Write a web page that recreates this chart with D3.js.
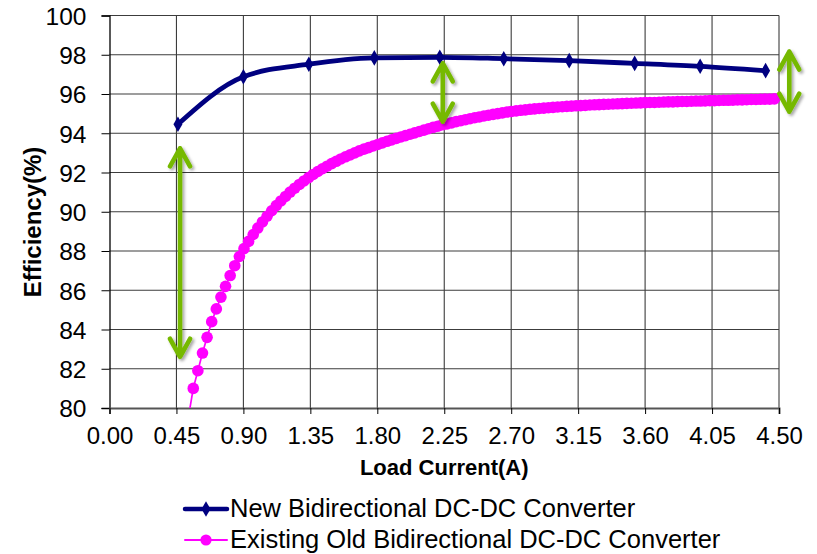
<!DOCTYPE html>
<html>
<head>
<meta charset="utf-8">
<script src="https://cdnjs.cloudflare.com/ajax/libs/d3/7.8.5/d3.min.js"></script>
<style>
  body { margin: 0; background: #fff; }
  text { font-family: "Liberation Sans", Arial, sans-serif; fill: #000; }
</style>
</head>
<body>
<script>
// Efficiency vs load current, two converters

// Tick values
var xTicks = [0.00, 0.45, 0.90, 1.35, 1.80, 2.25, 2.70, 3.15, 3.60, 4.05, 4.50];
var yTicks = [80, 82, 84, 86, 88, 90, 92, 94, 96, 98, 100];

// Series names
var seriesNames = ["New Bidirectional DC-DC Converter", "Existing Old Bidirectional DC-DC Converter"];

// New converter (measured points)
var newX = [0.46, 0.90, 1.34, 1.78, 2.22, 2.65, 3.09, 3.53, 3.97, 4.41];
var newY = [94.46, 96.88, 97.52, 97.84, 97.87, 97.80, 97.70, 97.56, 97.41, 97.19];

// Old converter (dense curve)
var oldX = [0.532, 0.563, 0.594, 0.625, 0.656, 0.687, 0.718, 0.749, 0.780, 0.811,
  0.842, 0.873, 0.904, 0.935, 0.966, 0.997, 1.028, 1.059, 1.090, 1.121,
  1.152, 1.183, 1.214, 1.245, 1.276, 1.307, 1.338, 1.369, 1.400, 1.431,
  1.462, 1.493, 1.524, 1.555, 1.586, 1.617, 1.648, 1.679, 1.710, 1.741,
  1.772, 1.803, 1.834, 1.865, 1.896, 1.927, 1.958, 1.989, 2.020, 2.051,
  2.082, 2.113, 2.144, 2.175, 2.206, 2.237, 2.268, 2.299, 2.330, 2.361,
  2.392, 2.423, 2.454, 2.485, 2.516, 2.547, 2.578, 2.609, 2.640, 2.671,
  2.702, 2.733, 2.764, 2.795, 2.826, 2.857, 2.888, 2.919, 2.950, 2.981,
  3.012, 3.043, 3.074, 3.105, 3.136, 3.167, 3.198, 3.229, 3.260, 3.291,
  3.322, 3.353, 3.384, 3.415, 3.446, 3.477, 3.508, 3.539, 3.570, 3.601,
  3.632, 3.663, 3.694, 3.725, 3.756, 3.787, 3.818, 3.849, 3.880, 3.911,
  3.942, 3.973, 4.004, 4.035, 4.066, 4.097, 4.128, 4.159, 4.190, 4.221,
  4.252, 4.283, 4.314, 4.345, 4.376, 4.407, 4.438, 4.469];
var oldY = [79.60, 81.00, 81.90, 82.80, 83.60, 84.40, 85.05, 85.65, 86.20, 86.75,
  87.25, 87.72, 88.12, 88.49, 88.84, 89.17, 89.48, 89.77, 90.05, 90.31,
  90.55, 90.78, 91.00, 91.20, 91.39, 91.57, 91.74, 91.90, 92.05, 92.19,
  92.32, 92.45, 92.57, 92.69, 92.80, 92.90, 93.00, 93.10, 93.19, 93.27,
  93.35, 93.43, 93.51, 93.59, 93.66, 93.74, 93.81, 93.88, 93.95, 94.02,
  94.09, 94.16, 94.23, 94.30, 94.36, 94.43, 94.48, 94.53, 94.59, 94.64,
  94.69, 94.74, 94.79, 94.83, 94.88, 94.92, 94.96, 95.00, 95.04, 95.08,
  95.11, 95.14, 95.17, 95.19, 95.22, 95.24, 95.26, 95.28, 95.30, 95.32,
  95.34, 95.35, 95.37, 95.38, 95.40, 95.41, 95.42, 95.44, 95.45, 95.46,
  95.47, 95.48, 95.49, 95.50, 95.51, 95.52, 95.53, 95.54, 95.55, 95.56,
  95.57, 95.57, 95.58, 95.59, 95.60, 95.60, 95.61, 95.62, 95.62, 95.63,
  95.64, 95.64, 95.65, 95.66, 95.66, 95.67, 95.68, 95.68, 95.69, 95.70,
  95.70, 95.71, 95.72, 95.72, 95.73, 95.74, 95.74, 95.75];

// Green double arrows (x, top, bottom)
var arrowX = [0.474, 2.24, 4.569];
var arrowTop = [93.23, 97.56, 98.16];
var arrowBottom = [82.61, 94.59, 95.10];

// Set margins
var margin = {top: 15.5, left: 109.5, right: 38, bottom: 146};
var width = 817 - margin.left - margin.right;
var height = 554 - margin.top - margin.bottom;

var svg = d3.select("body").append("svg")
    .attr("width", 817)
    .attr("height", 554);

// arrow shadow
var defs = svg.append("defs");
var f = defs.append("filter").attr("id", "shadow")
    .attr("x", "-50%").attr("y", "-20%").attr("width", "200%").attr("height", "140%");
f.append("feDropShadow").attr("dx", 2).attr("dy", 2).attr("stdDeviation", 1.8)
    .attr("flood-color", "#000").attr("flood-opacity", 0.35);
defs.append("clipPath").attr("id", "plotClip")
  .append("rect").attr("x", -10).attr("y", -10).attr("width", width + 20).attr("height", height + 10);

var g = svg.append("g")
    .attr("transform", "translate(" + margin.left + "," + margin.top + ")");

// Scales
var x = d3.scaleLinear().domain([0, 4.5]).range([0, width]);
var y = d3.scaleLinear().domain([80, 100]).range([height, 0]);

// Grid lines
g.selectAll(".vgrid")
    .data(xTicks.slice(1))
    .enter().append("line")
    .attr("x1", function(d) { return x(d); })
    .attr("x2", function(d) { return x(d); })
    .attr("y1", 0).attr("y2", height)
    .attr("stroke", "#3c3c3c").attr("stroke-width", 1.1);

g.selectAll(".hgrid")
    .data(yTicks.slice(1))
    .enter().append("line")
    .attr("x1", 0).attr("x2", width)
    .attr("y1", function(d) { return y(d); })
    .attr("y2", function(d) { return y(d); })
    .attr("stroke", "#3c3c3c").attr("stroke-width", 1.1);

// Axes
var yAxis = g.append("g")
    .call(d3.axisLeft(y).tickValues(yTicks).tickSize(8).tickPadding(15).tickFormat(d3.format("d")));
var xAxis = g.append("g")
    .attr("transform", "translate(0," + height + ")")
    .call(d3.axisBottom(x).tickValues(xTicks).tickSize(6).tickPadding(13).tickFormat(d3.format(".2f")));

yAxis.select(".domain").attr("stroke", "#000").attr("stroke-width", 1.3);
xAxis.select(".domain").attr("stroke", "#555").attr("stroke-width", 2);
yAxis.selectAll(".tick line").attr("stroke", "#000");
xAxis.selectAll(".tick line").attr("stroke", "#000");
yAxis.selectAll("text").style("font-size", "24.5px").attr("dy", "0.36em");
xAxis.selectAll("text").style("font-size", "24px");

// Axis titles
svg.append("text")
    .attr("transform", "translate(41,222) rotate(-90)")
    .attr("text-anchor", "middle")
    .style("font-size", "24px").style("font-weight", "bold")
    .text("Efficiency(%)");

svg.append("text")
    .attr("x", margin.left + width / 2)
    .attr("y", 475)
    .attr("text-anchor", "middle")
    .style("font-size", "22px").style("font-weight", "bold")
    .text("Load Current(A)");

// Old converter series
var oldData = oldX.map(function(d, i) { return {x: d, y: oldY[i]}; });
var plot = g.append("g").attr("clip-path", "url(#plotClip)");

plot.append("path")
    .datum(oldData)
    .attr("fill", "none")
    .attr("stroke", "#ff00ff")
    .attr("stroke-width", 1.7)
    .attr("d", d3.line().x(function(d) { return x(d.x); }).y(function(d) { return y(d.y); }));

plot.selectAll(".oldpt")
    .data(oldData)
    .enter().append("circle")
    .attr("cx", function(d) { return x(d.x); })
    .attr("cy", function(d) { return y(d.y); })
    .attr("r", 5.8)
    .attr("fill", "#ff00ff");

// New converter series
var newData = newX.map(function(d, i) { return {x: d, y: newY[i]}; });

g.append("path")
    .datum(newData)
    .attr("fill", "none")
    .attr("stroke", "#000080")
    .attr("stroke-width", 4.8)
    .attr("d", d3.line().curve(d3.curveMonotoneX)
        .x(function(d) { return x(d.x); }).y(function(d) { return y(d.y); }));

g.selectAll(".newpt")
    .data(newData)
    .enter().append("path")
    .attr("transform", function(d) { return "translate(" + x(d.x) + "," + y(d.y) + ")"; })
    .attr("d", d3.symbol().type(d3.symbolDiamond).size(70))
    .attr("fill", "#000080");

// Arrows
var arrows = g.selectAll(".arrow")
    .data(arrowX.map(function(d, i) { return {x: d, t: arrowTop[i], b: arrowBottom[i]}; }))
    .enter().append("path")
    .attr("fill", "none")
    .attr("stroke", "#76b900")
    .attr("stroke-width", 4.6)
    .attr("stroke-linecap", "round")
    .attr("stroke-linejoin", "round")
    .attr("filter", "url(#shadow)")
    .attr("d", function(d) {
        var ax = x(d.x), t = y(d.t), b = y(d.b);
        return "M" + ax + "," + t + "L" + ax + "," + b +
            "M" + (ax - 10) + "," + (t + 18) + "L" + ax + "," + t + "L" + (ax + 10) + "," + (t + 18) +
            "M" + (ax - 10) + "," + (b - 18) + "L" + ax + "," + b + "L" + (ax + 10) + "," + (b - 18);
    });

// Legend
var legend = svg.append("g");
var legRows = [
    {name: seriesNames[0], color: "#000080", y: 509, width: 4.5, marker: "diamond"},
    {name: seriesNames[1], color: "#ff00ff", y: 540, width: 2, marker: "circle"}
];
legRows.forEach(function(r) {
    legend.append("line")
        .attr("x1", 185).attr("x2", 227)
        .attr("y1", r.y).attr("y2", r.y)
        .attr("stroke", r.color).attr("stroke-width", r.width)
        .attr("stroke-linecap", "round");
    if (r.marker === "diamond") {
        legend.append("path")
            .attr("transform", "translate(206," + r.y + ")")
            .attr("d", d3.symbol().type(d3.symbolDiamond).size(70))
            .attr("fill", r.color);
    } else {
        legend.append("circle").attr("cx", 206).attr("cy", r.y).attr("r", 5.6).attr("fill", r.color);
    }
    legend.append("text")
        .attr("x", 230).attr("y", r.y + 8)
        .style("font-size", "25.5px")
        .text(r.name);
});
</script>
</body>
</html>
